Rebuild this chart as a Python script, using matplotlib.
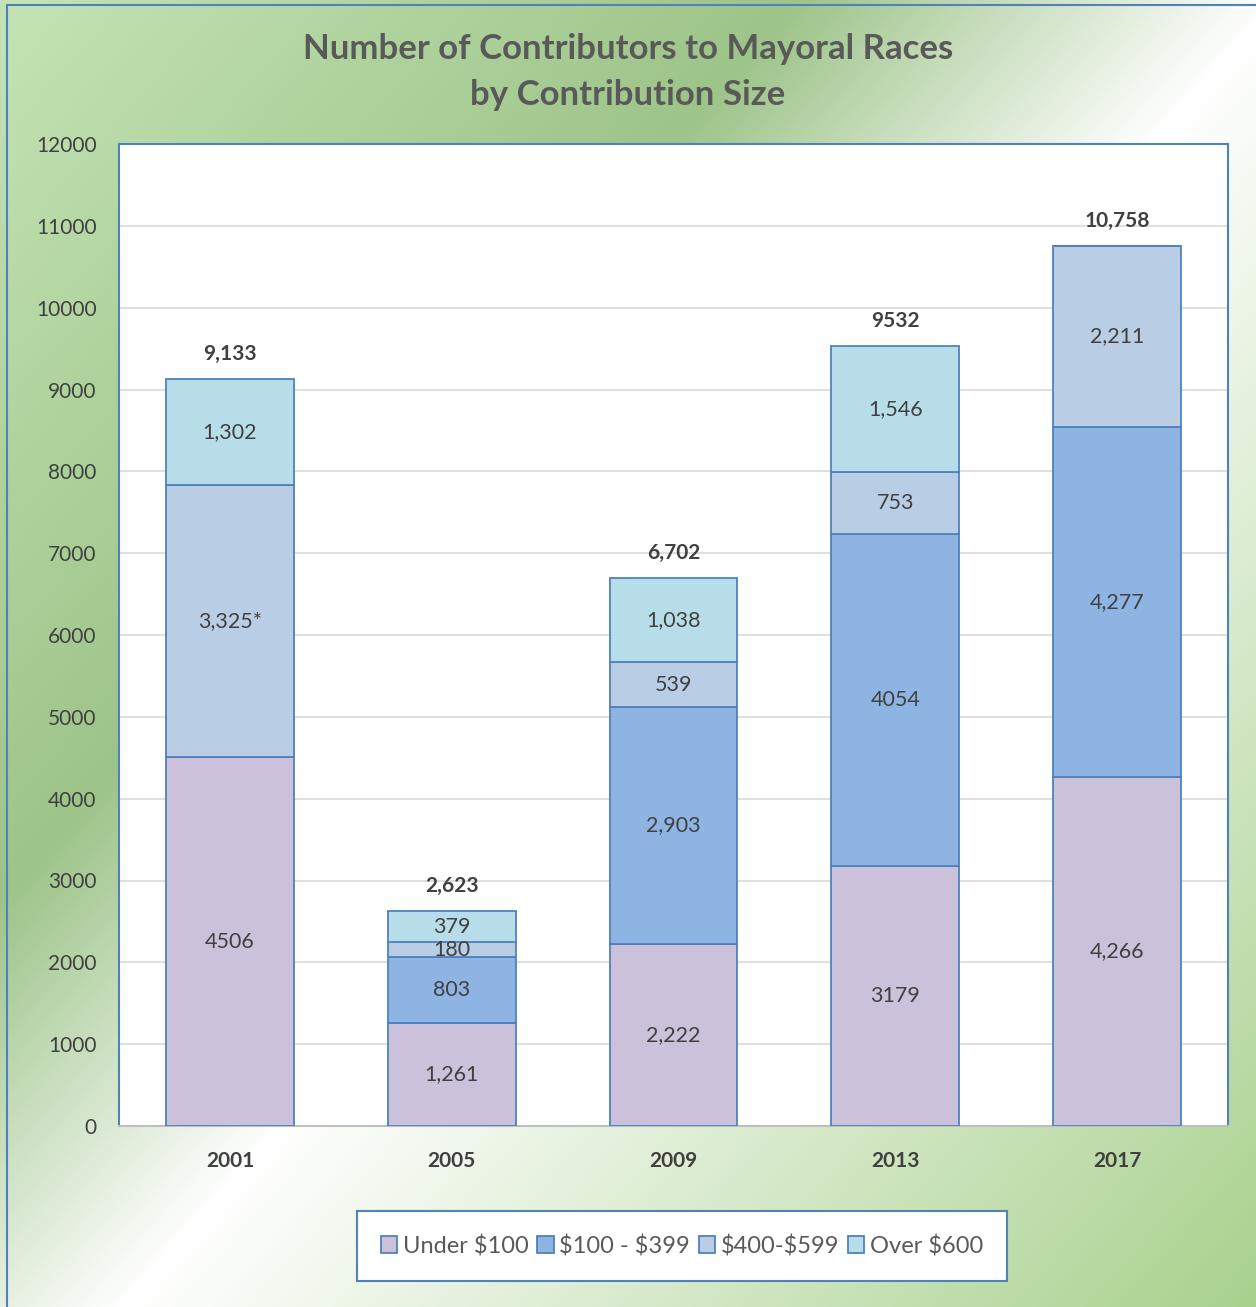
import numpy as np
import matplotlib
matplotlib.use("Agg")
import matplotlib.pyplot as plt
from matplotlib.patches import Rectangle, Patch

plt.rcParams['font.family'] = ['Lato', 'DejaVu Sans']

# --------- DATA ----------
years = ["2001", "2005", "2009", "2013", "2017"]
series_names = ["Under \\$100", "\\$100 - \\$399", "\\$400-\\$599", "Over \\$600"]
under_100 = [4506, 1261, 2222, 3179, 4266]
from_100_399 = [0, 803, 2903, 4054, 4277]
from_400_599 = [3325, 180, 539, 753, 2211]
over_600 = [1302, 379, 1038, 1546, 0]

under_labels = ["4506", "1,261", "2,222", "3179", "4,266"]
mid_labels = ["", "803", "2,903", "4054", "4,277"]
upper_labels = ["3,325*", "180", "539", "753", "2,211"]
over_labels = ["1,302", "379", "1,038", "1,546", ""]
total_labels = ["9,133", "2,623", "6,702", "9532", "10,758"]
# -------------------------

colors = ["#ccc1da", "#8eb4e3", "#b9cde5", "#b7dee8"]
edge = "#4f81bd"
text_col = "#404040"

W, H = 1256, 1307
fig = plt.figure(figsize=(W / 100, H / 100), dpi=100)

# background gradient (diagonal, top-left -> bottom-right)
bg = fig.add_axes([0, 0, 1, 1], zorder=-10)
yy, xx = np.mgrid[0:H, 0:W]
t = (xx * 1307 + yy * 1156) / (1256 * 1307 + 1307 * 1156)
stops = [0.0, 0.33, 0.53, 1.0]
stop_cols = np.array([[197, 228, 181], [157, 196, 137], [255, 255, 255], [168, 209, 141]]) / 255.0
img = np.stack([np.interp(t, stops, stop_cols[:, c]) for c in range(3)], axis=-1)
bg.imshow(img, aspect='auto', extent=[0, 1, 0, 1], origin='upper')
bg.set_xlim(0, 1)
bg.set_ylim(0, 1)
bg.axis('off')
bg.add_patch(Rectangle((7 / W, -0.01), 1.02, 1 - 5 / H + 0.01, fill=False,
                       edgecolor=edge, lw=1.5, transform=bg.transAxes))

# plot area
left, right, top, bottom = 119, 1228, 144, 1126
ax = fig.add_axes([left / W, 1 - bottom / H, (right - left) / W, (bottom - top) / H])
ax.set_facecolor("white")

x = np.arange(len(years))
width = 0.577
stack = [under_100, from_100_399, from_400_599, over_600]
stack_labels = [under_labels, mid_labels, upper_labels, over_labels]
base = np.zeros(len(years))
for vals, col, name, labs in zip(stack, colors, series_names, stack_labels):
    vals = np.array(vals, dtype=float)
    ax.bar(x, vals, width, bottom=base, color=col, edgecolor=edge, linewidth=1.3,
           label=name, zorder=3)
    for i, (v, lab) in enumerate(zip(vals, labs)):
        if lab:
            ax.text(x[i], base[i] + v / 2, lab, ha='center', va='center',
                    fontsize=15.5, color=text_col, zorder=4)
    base += vals

for i, lab in enumerate(total_labels):
    ax.annotate(lab, (x[i], base[i]), xytext=(0, 18), textcoords='offset points',
                ha='center', va='center', fontsize=15, fontweight='bold', color=text_col)

ax.set_xlim(-0.5, len(years) - 0.5)
ax.set_ylim(0, 12000)
ax.set_yticks(np.arange(0, 12001, 1000))
ax.yaxis.grid(True, color="#d9d9d9", lw=1.2, zorder=0)
ax.set_axisbelow(True)
ax.set_xticks(x)
ax.set_xticklabels(years, fontsize=15, fontweight='bold', color=text_col)
ax.tick_params(axis='y', labelsize=15, labelcolor=text_col, length=0, pad=16)
ax.tick_params(axis='x', length=0, pad=18)
for s in ["left", "right", "top"]:
    ax.spines[s].set_color(edge)
    ax.spines[s].set_linewidth(1.5)
ax.spines["bottom"].set_color("#bfbfbf")
ax.spines["bottom"].set_linewidth(1.5)

fig.text(0.5, 1 - 72 / H, "Number of Contributors to Mayoral Races\nby Contribution Size",
         ha='center', va='center', fontsize=25, fontweight='bold', color="#595959",
         linespacing=1.55)

handles = [Patch(facecolor=c, edgecolor=edge, lw=1.3) for c in colors]
leg = fig.legend(handles, series_names, loc='center', bbox_to_anchor=(682 / W, 1 - 1246 / H),
                 ncol=4, fontsize=17, frameon=True, fancybox=False, handlelength=0.7,
                 handleheight=0.7, handletextpad=0.25, columnspacing=0.35,
                 borderpad=1.0, labelcolor="#595959")
leg.get_frame().set_edgecolor(edge)
leg.get_frame().set_linewidth(1.5)
leg.get_frame().set_facecolor("white")
leg.get_frame().set_alpha(1)

fig.savefig("out.png", dpi=100)
